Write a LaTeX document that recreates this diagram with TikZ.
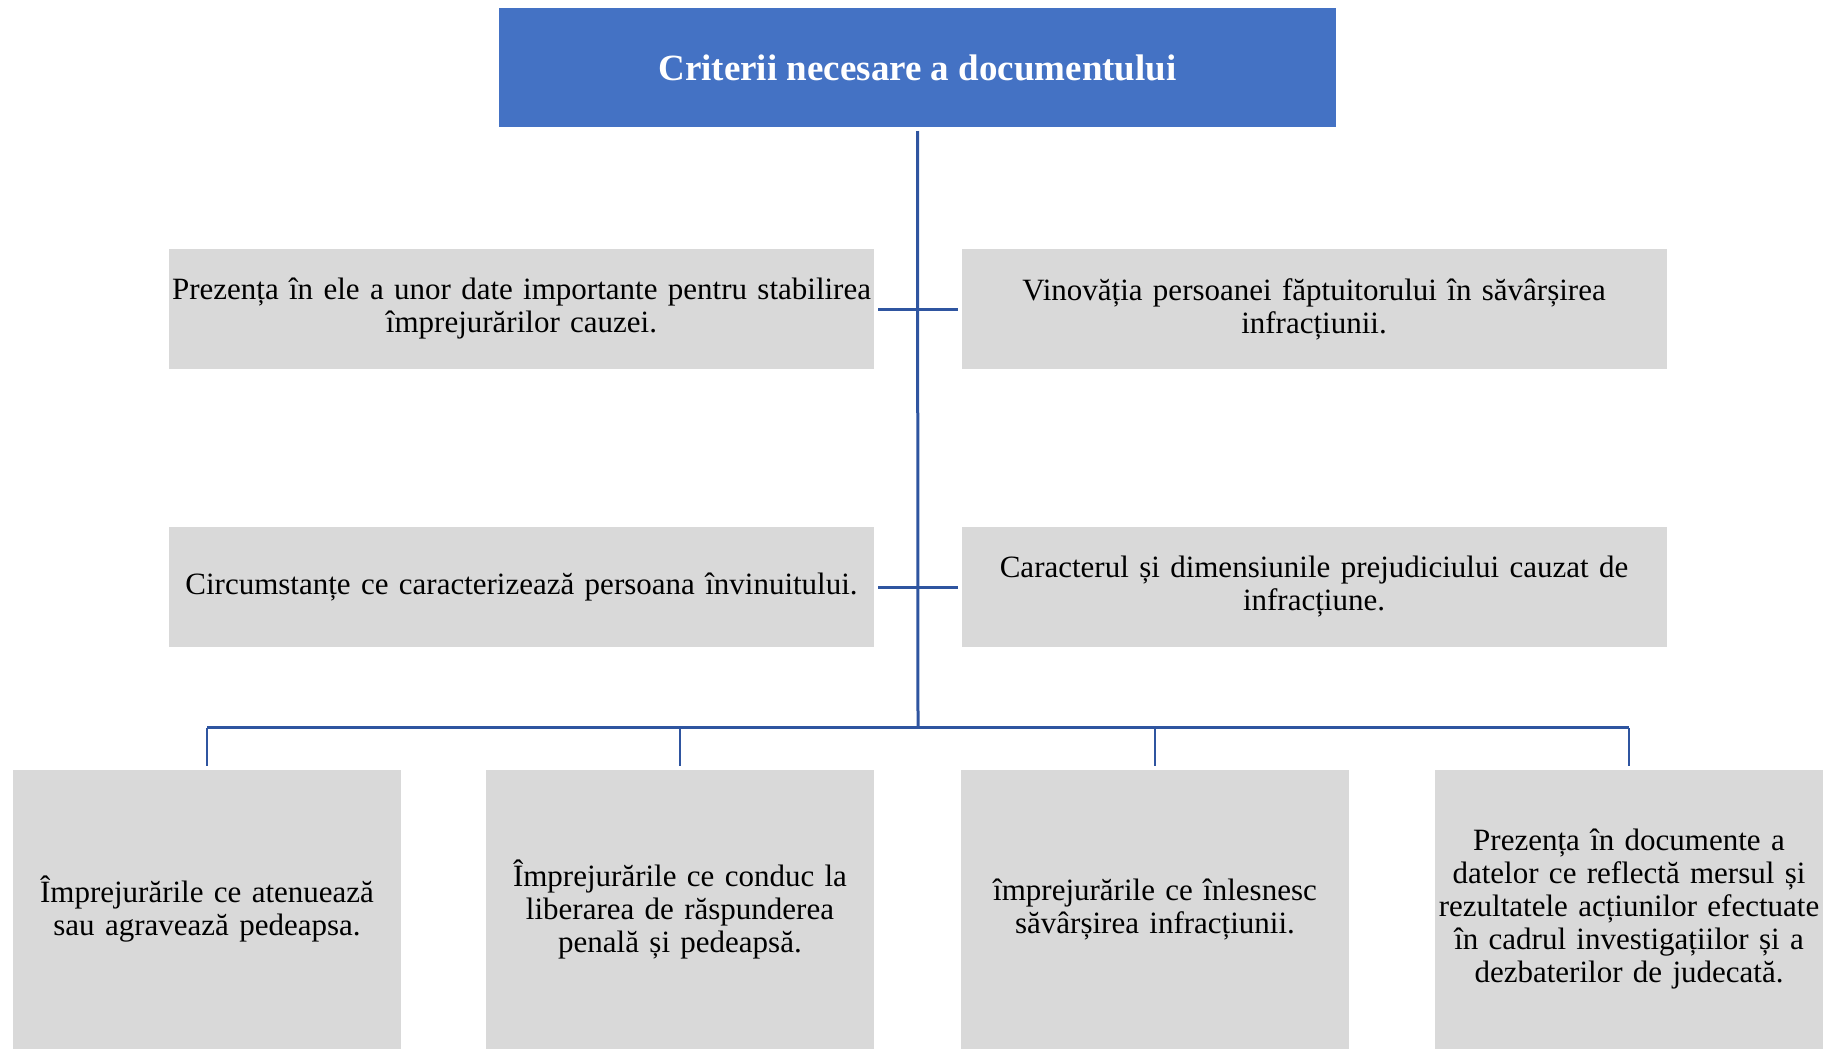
\documentclass[tikz,border=0pt]{standalone}
\usepackage{fontspec}
\setmainfont{Liberation Serif}
\usetikzlibrary{positioning, calc}
\definecolor{headblue}{HTML}{4472C4}
\definecolor{cellgray}{HTML}{D9D9D9}
\definecolor{linkblue}{HTML}{2F55A0}
\tikzset{
  head/.style={fill=headblue, text=white, font=\fontsize{37}{40}\selectfont\bfseries,
    minimum width=837pt, minimum height=119pt, inner sep=0pt, outer sep=0pt},
  cell/.style={fill=cellgray, align=center, font=\fontsize{31}{33}\selectfont,
    inner sep=0pt, outer sep=0pt},
  widecell/.style={cell, minimum width=705pt, minimum height=120pt, text width=705pt},
  tallcell/.style={cell, minimum width=388pt, minimum height=279pt, text width=388pt},
  link/.style={draw=linkblue, line width=3pt},
  drop/.style={draw=linkblue, line width=2pt}
}

\begin{document}
\begin{tikzpicture}[x=1pt, y=-1pt]
  \useasboundingbox (0,0) rectangle (1838,1049);

  \node[head] (title) at (917.5,67.5) {Criterii necesare a documentului};

  \node[widecell] (upleft) at (521.5,309)
    {Prezența în ele a unor date importante pentru stabilirea\\ împrejurărilor cauzei.};
  \node[widecell] (upright) at (1314,309)
    {Vinovăția persoanei făptuitorului în săvârșirea\\ infracțiunii.};
  \node[widecell] (midleft) at (521.5,587)
    {Circumstanțe ce caracterizează persoana învinuitului.};
  \node[widecell] (midright) at (1314,587)
    {Caracterul și dimensiunile prejudiciului cauzat de\\ infracțiune.};

  \node[tallcell] (lowa) at (207,909.5)
    {Împrejurările ce atenuează\\ sau agravează pedeapsa.};
  \node[tallcell] (lowb) at (680,909.5)
    {Împrejurările ce conduc la\\ liberarea de răspunderea\\ penală și pedeapsă.};
  \node[tallcell] (lowc) at (1155,909.5)
    {împrejurările ce înlesnesc\\ săvârșirea infracțiunii.};
  \node[tallcell] (lowd) at (1629,909.5)
    {Prezența în documente a\\ datelor ce reflectă mersul și\\ rezultatele acțiunilor efectuate\\ în cadrul investigațiilor și a\\ dezbaterilor de judecată.};

  \coordinate (bus) at (918,727);

  \draw[link] ([yshift=-4pt]title.south) -- (bus);
  \draw[link] ([xshift=4pt]upleft.east) -- ([xshift=-4pt]upright.west);
  \draw[link] ([xshift=4pt]midleft.east) -- ([xshift=-4pt]midright.west);
  \draw[link] (lowa.north |- bus) -- (lowd.north |- bus);
  \draw[drop] ([yshift=-1pt]lowa.north |- bus) -- ([yshift=4pt]lowa.north);
  \draw[drop] (lowb.north |- bus) -- ([yshift=4pt]lowb.north);
  \draw[drop] (lowc.north |- bus) -- ([yshift=4pt]lowc.north);
  \draw[drop] ([yshift=-1pt]lowd.north |- bus) -- ([yshift=4pt]lowd.north);
\end{tikzpicture}
\end{document}
